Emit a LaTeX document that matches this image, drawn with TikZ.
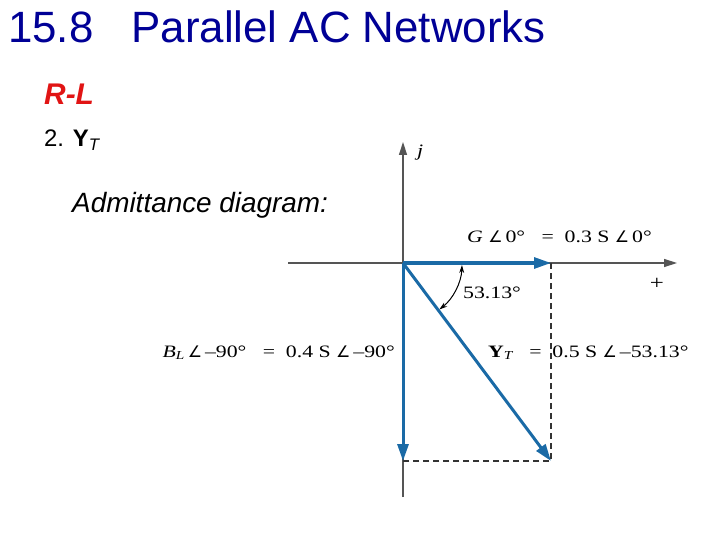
\documentclass[tikz,border=0pt]{standalone}
\usepackage{fontspec}
\setmainfont{Liberation Sans}
\newfontfamily\tms[FakeStretch=1.25]{Liberation Serif}
\newfontfamily\symf{DejaVu Sans}
\newcommand{\ang}{{\symf\fontsize{16}{18}\selectfont ∠}}
\usetikzlibrary{arrows.meta,calc}
\definecolor{navy}{RGB}{0,0,150}
\definecolor{rlred}{RGB}{225,20,20}
\definecolor{vec}{RGB}{26,106,166}
\definecolor{axisgray}{RGB}{85,85,85}
\tikzset{
  txt/.style={inner sep=0pt, anchor=base west},
  lbl/.style={inner sep=0pt, font=\tms\fontsize{17.5}{20}\selectfont},
  axisline/.style={draw=axisgray, line width=1.4bp, -{Triangle[length=13bp,width=8bp]}},
  vector/.style={draw=vec, line width=3bp, -{Triangle[length=17bp,width=11bp]}},
  dashline/.style={draw=black!80, line width=1.4bp, dash pattern=on 6bp off 4bp},
  anglearc/.style={draw=black, line width=1bp, {Stealth[length=8bp,width=5bp]}-{Stealth[length=8bp,width=5bp]}}
}
\begin{document}
\begin{tikzpicture}[x=1bp,y=-1bp]
\useasboundingbox (0,0) rectangle (720,540);
% text
\node[txt, text=navy, font=\fontsize{44}{48}\selectfont] (title) at (8,43) {15.8\hspace{38bp}Parallel AC Networks};
\node[txt, text=rlred, font=\fontsize{30}{32}\selectfont\bfseries\itshape] (rl) at (44,105) {R-L};
\node[txt, font=\fontsize{24}{28}\selectfont] (yt) at (44,147) {2. \textbf{Y}\textsubscript{\itshape T}};
\node[txt, font=\fontsize{28}{30}\selectfont\itshape] (adm) at (72,213) {Admittance diagram:};
% coordinates
\coordinate (o) at (403,263);
\coordinate (xl) at (288,263);
\coordinate (xr) at (677,263);
\coordinate (yb) at (403,497);
\coordinate (yt2) at (403,142);
\coordinate (g) at (551,263);
\coordinate (b) at (403,461);
\coordinate (y) at (551,461);
% axes
\draw[axisline] (xl) -- (xr);
\draw[axisline] (yb) -- (yt2);
% dashed
\draw[dashline] (g) -- (y) -- (b);
% vectors
\draw[vector] (o) -- (g);
\draw[vector] (o) -- (b);
\draw[vector] (o) -- (y);
% angle arc
\draw[anglearc] ($(o)+(2:59)$) arc[start angle=2, end angle=52, radius=59];
% labels
\node[lbl, anchor=base west] (jl) at (417,157) {\itshape j};
\node[lbl, anchor=center, font=\tms\fontsize{20}{22}\selectfont] (plus) at (657,284) {+};
\node[lbl, anchor=base west] (gl) at (467,243) {\itshape G \ang\,\upshape 0°\ \ \ =\ \ 0.3 S \ang\,0°};
\node[lbl, anchor=base west] (ang) at (463,298) {53.13°};
\node[lbl, anchor=base east] (bl) at (395,357) {\itshape B\textsubscript{L}\,\ang\,\upshape –90°\ \ \ =\ \ 0.4 S \ang\,–90°};
\node[lbl, anchor=base west] (ytl) at (488,357) {\textbf{Y}\textsubscript{\itshape T}\ \ \ =\ \ 0.5 S \ang\,–53.13°};
\end{tikzpicture}
\end{document}
